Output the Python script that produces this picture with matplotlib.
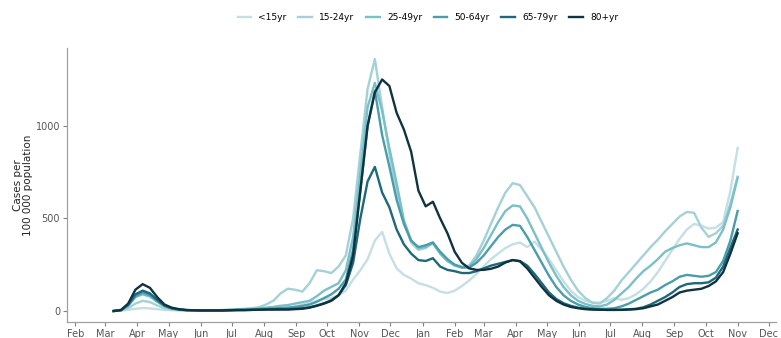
import matplotlib
matplotlib.use("Agg")
import matplotlib.pyplot as plt
import matplotlib.dates as mdates
import pandas as pd

weeks = pd.date_range("2020-03-09", periods=87, freq="7D")

age_groups = ["<15yr", "15-24yr", "25-49yr", "50-64yr", "65-79yr", "80+yr"]
colors = ["#c6dfe3", "#a3d1d7", "#79c0c8", "#4a9daa", "#1d687a", "#0f3340"]

u15 = [0, 2, 6, 12, 16, 14, 10, 6, 4, 3,
       2, 2, 2, 2, 2, 2, 3,
       4, 5, 6, 8, 10, 12, 15, 18,
       25, 35, 45, 55, 65,
       70, 85, 110, 170, 220, 280, 380, 427, 310, 230,
       195, 175, 150, 140, 125, 105, 97, 110, 135, 165,
       200, 240, 280, 310, 340, 360, 370, 345, 375, 330,
       280, 220, 160, 110, 75, 55, 45, 45, 55, 70,
       60, 70, 90, 120, 160, 210, 270, 330, 390, 440,
       470, 460, 445, 450, 480, 650, 880]

a15_24 = [0, 3, 15, 40, 55, 48, 30, 15, 8, 5,
          4, 3, 3, 3, 4, 5, 7,
          10, 12, 15, 20, 35, 55, 95, 120,
          115, 105, 150, 220, 215,
          205, 240, 300, 500, 850, 1200, 1360, 1100, 850, 640,
          480, 370, 330, 340, 370, 310, 270, 250, 240, 245,
          300, 380, 470, 560, 640, 690, 680, 620, 560, 480,
          400, 320, 240, 170, 110, 70, 45, 40, 70, 110,
          165, 210, 255, 300, 345, 385, 430, 470, 510, 535,
          530, 450, 400, 420, 460, 580, 725]

a25_49 = [0, 4, 28, 75, 90, 78, 50, 25, 12, 7,
          5, 4, 3, 3, 4, 5, 6,
          8, 9, 11, 14, 18, 22, 28, 32,
          40, 48, 55, 80, 110,
          130, 150, 220, 400, 750, 1100, 1232, 1080, 880, 690,
          490, 380, 340, 345, 365, 310, 270, 245, 235, 240,
          280, 340, 410, 480, 540, 570, 565, 500, 420, 340,
          260, 190, 130, 85, 55, 38, 28, 25, 35, 60,
          95, 130, 175, 215, 245, 280, 320, 340, 355, 365,
          355, 345, 345, 370, 440, 560, 720]

a50_64 = [0, 4, 30, 80, 100, 85, 55, 28, 14, 8,
          5, 4, 3, 3, 3, 4, 5,
          6, 7, 8, 10, 12, 14, 16, 18,
          22, 28, 35, 50, 70,
          90, 120, 170, 330, 650, 1000, 1190, 950, 780, 600,
          470, 380, 345, 355, 370, 320, 280, 250, 235, 235,
          260, 300, 350, 400, 440, 465, 460, 400, 330, 260,
          190, 130, 85, 55, 35, 22, 15, 12, 12, 15,
          25, 40, 60, 80, 100, 115, 140, 160, 185, 195,
          190, 185, 190, 210, 270, 380, 540]

a65_79 = [0, 5, 35, 90, 110, 95, 60, 30, 15, 8,
          5, 4, 3, 3, 3, 3, 4,
          5, 5, 6, 7, 8, 9, 10, 10,
          12, 15, 20, 30, 42,
          58, 85, 140, 260, 500, 700, 778, 640, 560, 440,
          360, 310, 275, 270, 285, 240, 222, 215, 205, 205,
          215, 230, 245, 255, 265, 275, 270, 245, 200, 150,
          100, 65, 42, 28, 18, 12, 9, 7, 6, 6,
          7, 9, 12, 20, 35, 55, 75, 100, 130, 145,
          150, 150, 155, 180, 240, 340, 440]

a80p = [0, 5, 40, 115, 145, 125, 75, 35, 18, 10,
        5, 4, 3, 3, 3, 3, 4,
        5, 5, 6, 7, 8, 8, 8, 8,
        10, 12, 18, 28, 40,
        55, 85, 150, 300, 650, 1000, 1180, 1250, 1215, 1070,
        980, 860, 650, 565, 590, 500, 420, 320, 260, 230,
        222, 222, 228, 240, 262, 275, 268, 230, 180, 130,
        85, 55, 35, 22, 15, 10, 8, 7, 6, 6,
        6, 8, 10, 15, 25, 35, 55, 75, 100, 110,
        115, 120, 135, 160, 210, 310, 420]

series = [u15, a15_24, a25_49, a50_64, a65_79, a80p]

fig = plt.figure(figsize=(7.81, 3.38), dpi=100)
ax = fig.add_axes([0.0858, 0.047, 0.9078, 0.811])

for name, vals, col in zip(age_groups, series, colors):
    ax.plot(weeks, vals, color=col, lw=1.7, label=name, solid_joinstyle="round")

ax.set_xlim(pd.Timestamp("2020-01-24"), pd.Timestamp("2021-12-08"))
ax.set_ylim(-60, 1420)
ax.set_yticks([0, 500, 1000])
ax.xaxis.set_major_locator(mdates.MonthLocator())
ax.xaxis.set_major_formatter(mdates.DateFormatter("%b"))

for s in ["top", "right"]:
    ax.spines[s].set_visible(False)
for s in ["left", "bottom"]:
    ax.spines[s].set_color("#a0a0a0")
    ax.spines[s].set_linewidth(0.9)
ax.tick_params(axis="both", colors="#808080", labelcolor="#555555",
               labelsize=7, length=3, width=0.8, pad=2)

ax.set_ylabel("Cases per\n100 000 population", fontsize=7.5, color="#222222",
              labelpad=1.5, linespacing=1.1)

leg = fig.legend(loc="upper center", bbox_to_anchor=(0.548, 0.985), ncol=6,
                 frameon=False, fontsize=6.5, handlelength=1.5,
                 columnspacing=1.3, handletextpad=0.8)

fig.savefig("out.png", dpi=100)
